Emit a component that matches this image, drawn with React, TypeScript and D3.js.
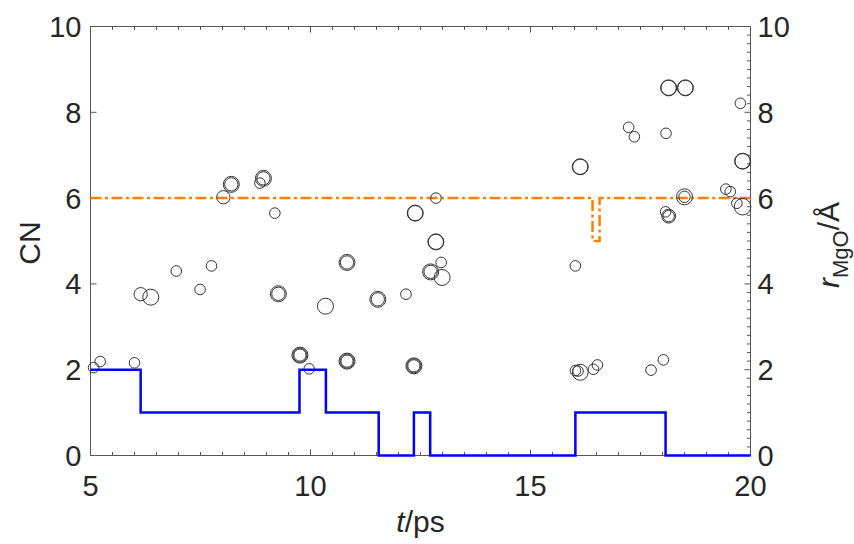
import React from "react";
import * as d3 from "d3";

// ---- data ----
const cnT = [5, 6.14, 9.75, 10.35, 11.55, 12.35, 12.72, 16.02, 18.07, 20];
const cnV = [2, 1, 2, 1, 0, 1, 0, 1, 0, 0];

const rT = [5, 16.41, 16.57, 20];
const rV = [6, 5, 6, 6];

// scatter rings: t, value, size level (repeated points = overlapping rings)
const ptT = [
  5.07, 5.22, 6.0, 6.14, 6.37, 6.95, 7.49, 7.75, 8.02, 8.2, 8.2, 8.85, 8.93, 8.93,
  9.19, 9.27, 9.27, 9.76, 9.76, 9.76, 9.97, 10.34, 10.83, 10.83, 10.83, 10.83, 10.83,
  11.53, 11.53, 12.17, 12.35, 12.35, 12.35, 12.38, 12.38, 12.85, 12.85, 12.85, 12.97,
  12.73, 12.73, 12.99, 16.02, 16.13, 16.13, 17.23, 17.36, 18.08, 18.14, 18.14, 18.52,
  18.52, 19.77, 19.82, 19.82, 18.5, 18.5, 18.07, 18.14, 18.14, 19.44, 19.54, 19.69,
  19.82, 16.02, 16.13, 16.08, 16.43, 16.52, 17.74, 18.02,
];
const ptV = [
  2.05, 2.19, 2.16, 3.76, 3.69, 4.3, 3.87, 4.42, 6.02, 6.32, 6.32, 6.35, 6.46, 6.46,
  5.65, 3.77, 3.77, 2.34, 2.34, 2.34, 2.02, 3.48, 4.5, 4.5, 2.2, 2.2, 2.2,
  3.64, 3.64, 3.76, 2.09, 2.09, 2.09, 5.65, 5.65, 6.0, 4.98, 4.98, 4.5,
  4.28, 4.28, 4.15, 4.42, 6.73, 6.73, 7.65, 7.43, 7.51, 8.57, 8.57, 8.57,
  8.57, 8.21, 6.86, 6.86, 6.03, 6.03, 5.68, 5.58, 5.58, 6.21, 6.15, 5.88,
  5.8, 1.98, 1.94, 1.97, 2.01, 2.11, 1.99, 2.23,
];
const ptS = [
  1, 1, 1, 2, 3, 1, 1, 1, 2, 2, 3, 1, 2, 3,
  1, 2, 3, 1.6, 2.3, 3, 1, 3, 2, 3, 1.6, 2.3, 3,
  2, 3, 1, 1.6, 2.3, 3, 2.7, 3, 1, 2.7, 3, 1,
  2, 3, 3, 1, 2.7, 3, 1, 1, 1, 2.7, 3, 2.7,
  3, 1, 2.7, 3, 1.3, 3, 1, 1.3, 2.2, 1, 1, 1,
  3.2, 1, 3, 1, 1, 1, 1, 1,
];

const xTicks = [5, 10, 15, 20];
const yTicks = [0, 2, 4, 6, 8, 10];

const W = 854;
const H = 544;
const M = { left: 90.5, right: 750.5, top: 26.5, bottom: 455.5 };
const FONT = "Helvetica, Arial, 'Liberation Sans', sans-serif";
const TXT = "#262626";
const AX = "#555";

export default function App() {
  const x = d3.scaleLinear().domain([5, 20]).range([M.left, M.right]);
  const y = d3.scaleLinear().domain([0, 10]).range([M.bottom, M.top]);
  const rScale = d3.scaleLinear().domain([1, 3]).range([5.3, 8]);

  const stepLine = d3
    .line<[number, number]>()
    .x((d) => x(d[0]))
    .y((d) => y(d[1]))
    .curve(d3.curveStepAfter);

  const cnPath = stepLine(cnT.map((t, i) => [t, cnV[i]]));
  const rPath = stepLine(rT.map((t, i) => [t, rV[i]]));

  const xMinor = d3.range(5, 20.001, 0.5);
  const yMinor = d3.range(0, 10.001, 0.2);

  return (
    <svg
      width={W}
      height={H}
      style={{ position: "absolute", left: 0, top: 0, background: "#fff" }}
      fontFamily={FONT}
    >
      {/* frame */}
      <rect
        x={M.left}
        y={M.top}
        width={M.right - M.left}
        height={M.bottom - M.top}
        fill="none"
        stroke={AX}
        strokeWidth={1}
      />
      {/* x ticks top & bottom */}
      {xMinor.map((t, i) => {
        const major = xTicks.some((v) => Math.abs(v - t) < 1e-6);
        const len = major ? 6 : 3.5;
        return (
          <g key={"xt" + i} stroke={AX} strokeWidth={1}>
            <line x1={x(t)} x2={x(t)} y1={M.bottom} y2={M.bottom - len} />
            <line x1={x(t)} x2={x(t)} y1={M.top} y2={M.top + len} />
          </g>
        );
      })}
      {/* left major ticks */}
      {yTicks.map((v) => (
        <line key={"yl" + v} x1={M.left} x2={M.left + 6} y1={y(v)} y2={y(v)} stroke={AX} />
      ))}
      {/* right ticks */}
      {yMinor.map((v, i) => {
        const major = yTicks.some((t) => Math.abs(t - v) < 1e-6);
        return (
          <line
            key={"yr" + i}
            x1={M.right}
            x2={M.right - (major ? 6 : 3.5)}
            y1={y(v)}
            y2={y(v)}
            stroke={AX}
          />
        );
      })}

      {/* orange dash-dot */}
      <path
        d={rPath || ""}
        fill="none"
        stroke="#ff8000"
        strokeWidth={2.5}
        strokeDasharray="11,3.5,3,3.5"
      />
      {/* blue step */}
      <path d={cnPath || ""} fill="none" stroke="#0000ff" strokeWidth={2.5} />

      {/* scatter rings */}
      {ptT.map((t, i) => (
        <circle
          key={"p" + i}
          cx={x(t)}
          cy={y(ptV[i])}
          r={rScale(ptS[i])}
          fill="none"
          stroke="#333"
          strokeWidth={1}
        />
      ))}

      {/* tick labels */}
      {yTicks.map((v) => (
        <text
          key={"ll" + v}
          x={M.left - 9}
          y={y(v)}
          dy="0.36em"
          textAnchor="end"
          fontSize={29}
          fill={TXT}
        >
          {v}
        </text>
      ))}
      {yTicks.map((v) => (
        <text
          key={"rl" + v}
          x={M.right + 7}
          y={y(v)}
          dy="0.36em"
          textAnchor="start"
          fontSize={29}
          fill={TXT}
        >
          {v}
        </text>
      ))}
      {xTicks.map((t) => (
        <text
          key={"xl" + t}
          x={x(t)}
          y={M.bottom + 40}
          textAnchor="middle"
          fontSize={29}
          fill={TXT}
        >
          {t}
        </text>
      ))}

      {/* axis labels */}
      <text x={(M.left + M.right) / 2} y={532} textAnchor="middle" fontSize={30} fill={TXT}>
        <tspan fontStyle="italic">t</tspan>/ps
      </text>
      <text
        transform={`translate(40, 243) rotate(-90)`}
        textAnchor="middle"
        fontSize={30}
        fill={TXT}
      >
        CN
      </text>
      <text
        transform={`translate(839, 245) rotate(-90)`}
        textAnchor="middle"
        fontSize={30}
        fill={TXT}
      >
        <tspan fontStyle="italic">r</tspan>
        <tspan fontSize={22} dy={9}>
          MgO
        </tspan>
        <tspan dy={-9}>/Å</tspan>
      </text>
    </svg>
  );
}
